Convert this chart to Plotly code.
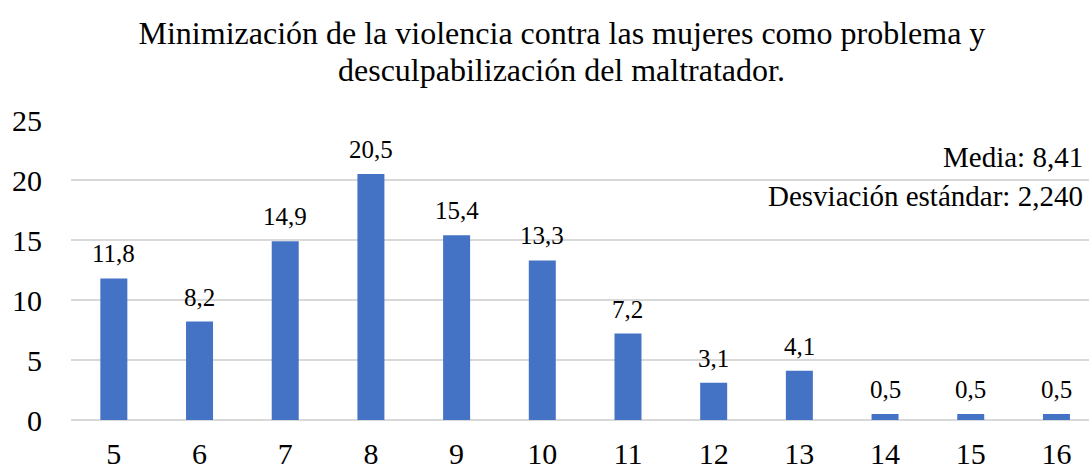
import plotly.graph_objects as go

categories = ["5", "6", "7", "8", "9", "10", "11", "12", "13", "14", "15", "16"]
values = [11.8, 8.2, 14.9, 20.5, 15.4, 13.3, 7.2, 3.1, 4.1, 0.5, 0.5, 0.5]
labels = [f"{v:.1f}".replace(".", ",") for v in values]
title_lines = ["Minimización de la violencia contra las mujeres como problema y",
               "desculpabilización del maltratador."]
stat_lines = ["Media: 8,41", "Desviación estándar: 2,240"]

FONT = "Liberation Serif, Times New Roman, serif"
xpos = list(range(len(categories)))

fig = go.Figure(go.Bar(
    x=xpos, y=values,
    marker=dict(color="#4472C4", line=dict(width=0)),
    width=0.315, hoverinfo="x+y",
))

annotations = [
    dict(text=lab, x=xi, y=v, xref="x", yref="y", xanchor="center", yanchor="bottom",
         yshift=9, showarrow=False, font=dict(family=FONT, size=25, color="#000000"))
    for xi, v, lab in zip(xpos, values, labels)
]
annotations += [
    dict(text=title_lines[1], xref="paper", yref="paper", x=0.482, y=1.167,
         xanchor="center", yanchor="middle", showarrow=False,
         font=dict(family=FONT, size=32, color="#000000")),
    dict(text=stat_lines[0], xref="paper", yref="paper", x=0.996, y=0.877,
         xanchor="right", yanchor="middle", showarrow=False,
         font=dict(family=FONT, size=29, color="#000000")),
    dict(text=stat_lines[1], xref="paper", yref="paper", x=0.996, y=0.747,
         xanchor="right", yanchor="middle", showarrow=False,
         font=dict(family=FONT, size=29, color="#000000")),
]

fig.update_layout(
    width=1089, height=470,
    margin=dict(l=71, r=0, t=120, b=50, autoexpand=False),
    paper_bgcolor="white", plot_bgcolor="white",
    showlegend=False,
    font=dict(family=FONT, color="#000000"),
    title=dict(text=title_lines[0], x=0.516, xanchor="center", y=0.93, yanchor="middle",
               font=dict(family=FONT, size=32, color="#000000")),
    xaxis=dict(tickmode="array", tickvals=xpos, ticktext=categories,
               range=[-0.5, 11.38], showgrid=False, zeroline=False, showline=False,
               tickfont=dict(family=FONT, size=30, color="#000000"), ticks="",
               ticklabelstandoff=13, automargin=False),
    yaxis=dict(range=[0, 25], tickvals=[0, 5, 10, 15, 20, 25], showgrid=True,
               gridcolor="#D9D9D9", gridwidth=1.5, zeroline=True, zerolinecolor="#D9D9D9",
               zerolinewidth=1.5, tickfont=dict(family=FONT, size=30, color="#000000"),
               ticks="", ticklabelstandoff=28, automargin=False),
    annotations=annotations,
)

fig.write_html(
    "out.html",
    config={"displayModeBar": False},
    post_script="document.body.style.margin='0';document.body.style.overflow='hidden';",
)
